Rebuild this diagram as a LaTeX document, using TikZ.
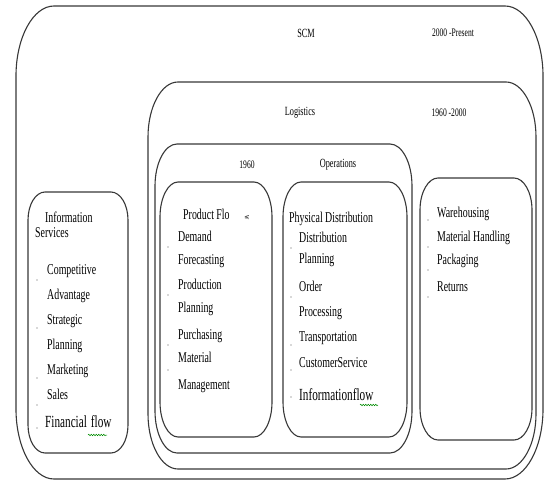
\documentclass[tikz,border=0pt]{standalone}
\usepackage{fontspec}
\setmainfont{Liberation Serif}[FakeStretch=0.66]
\usetikzlibrary{decorations.pathmorphing}
\newcommand{\myrbox}[6]{%
  \draw[boxline] (#1+#5,#2) -- (#3-#5,#2)
    .. controls (#3-0.45*#5,#2) and (#3,#2+0.45*#6) .. (#3,#2+#6)
    -- (#3,#4-#6)
    .. controls (#3,#4-0.45*#6) and (#3-0.45*#5,#4) .. (#3-#5,#4)
    -- (#1+#5,#4)
    .. controls (#1+0.45*#5,#4) and (#1,#4-0.45*#6) .. (#1,#4-#6)
    -- (#1,#2+#6)
    .. controls (#1,#2+0.45*#6) and (#1+0.45*#5,#2) .. (#1+#5,#2) -- cycle;}
\begin{document}
\begin{tikzpicture}[x=1pt,y=-1pt,
  boxline/.style={draw=black!78, line width=1.1pt, line join=round},
  title/.style={font=\fontsize{12.5}{14}\selectfont, inner sep=0pt, anchor=center},
  year/.style={font=\fontsize{11.5}{13}\selectfont, inner sep=0pt, anchor=center},
  item/.style={font=\fontsize{15}{17}\selectfont, inner sep=0pt, anchor=base west},
  bigitem/.style={font=\fontsize{17}{19}\selectfont, inner sep=0pt, anchor=base west},
  bul/.style={circle, fill=black!30, inner sep=0pt, minimum size=1.6pt},
  squig/.style={draw=green!55!black, line width=0.5pt, decorate,
    decoration={snake, amplitude=0.8pt, segment length=2.5pt}}]
\useasboundingbox (0,0) rectangle (545,481);
\fill[white] (0,0) rectangle (545,481);

% containers
\myrbox{16}{6}{543}{479}{38}{70}
\myrbox{148}{82}{536}{469}{30}{55}
\myrbox{155}{144}{412}{453}{22}{42}
\myrbox{160}{182}{272}{437}{18}{35}
\myrbox{283}{182}{407}{437}{18}{35}
\myrbox{420}{178}{532}{440}{18}{32}
\myrbox{28}{192}{128}{453}{17}{28}

% titles
\node[title] (scm) at (306,33) {SCM};
\node[year] (y2000) at (453,33) {2000 -Present};
\node[title] (log) at (300,113) {Logistics};
\node[year] (y1960) at (449,113) {1960 -2000};
\node[year] (y60) at (247,165) {1960};
\node[title] (ops) at (338,165) {Operations};

% information services box
\node[item] (infoA) at (45,222) {Information};
\node[item] (infoB) at (35,237) {Services};
\node[item] (i1) at (47,274) {Competitive};
\node[item] (i2) at (47,299) {Advantage};
\node[item] (i3) at (47,324) {Strategic};
\node[item] (i4) at (47,349) {Planning};
\node[item] (i5) at (47,374) {Marketing};
\node[item] (i6) at (47,399) {Sales};
\node[bigitem] (i7) at (45,427) {Financial\hspace{4pt}flow};
\draw[squig] (88,435) -- (107,435);
\foreach \yy [count=\k] in {280,328,378,405,428}
  \node[bul] (ib\k) at (37,\yy) {};

% product flow box
\node[item] (pf) at (183,219) {Product Flo};
\node[item, font=\fontsize{9}{10}\selectfont, anchor=center, rotate=-90] (pw) at (247,218) {w};
\node[item] (p1) at (178,241) {Demand};
\node[item] (p2) at (178,264) {Forecasting};
\node[item] (p3) at (178,289) {Production};
\node[item] (p4) at (178,312) {Planning};
\node[item] (p5) at (178,339) {Purchasing};
\node[item] (p6) at (178,362) {Material};
\node[item] (p7) at (178,389) {Management};
\foreach \yy [count=\k] in {247,295,345,370}
  \node[bul] (pb\k) at (168,\yy) {};

% physical distribution box
\node[item] (pd) at (289,222) {Physical Distribution};
\node[item] (d1) at (299,242) {Distribution};
\node[item] (d2) at (299,263) {Planning};
\node[item] (d3) at (299,291) {Order};
\node[item] (d4) at (299,316) {Processing};
\node[item] (d5) at (299,341) {Transportation};
\node[item] (d6) at (299,367) {CustomerService};
\node[bigitem] (d7) at (299,400) {Informationflow};
\draw[squig] (360,405) -- (378,405);
\foreach \yy [count=\k] in {248,297,345,370,397}
  \node[bul] (db\k) at (291,\yy) {};

% warehousing box
\node[item] (w1) at (437,217) {Warehousing};
\node[item] (w2) at (437,241) {Material Handling};
\node[item] (w3) at (437,264) {Packaging};
\node[item] (w4) at (437,291) {Returns};
\foreach \yy [count=\k] in {220,247,270,297}
  \node[bul] (wb\k) at (428,\yy) {};
\end{tikzpicture}
\end{document}
